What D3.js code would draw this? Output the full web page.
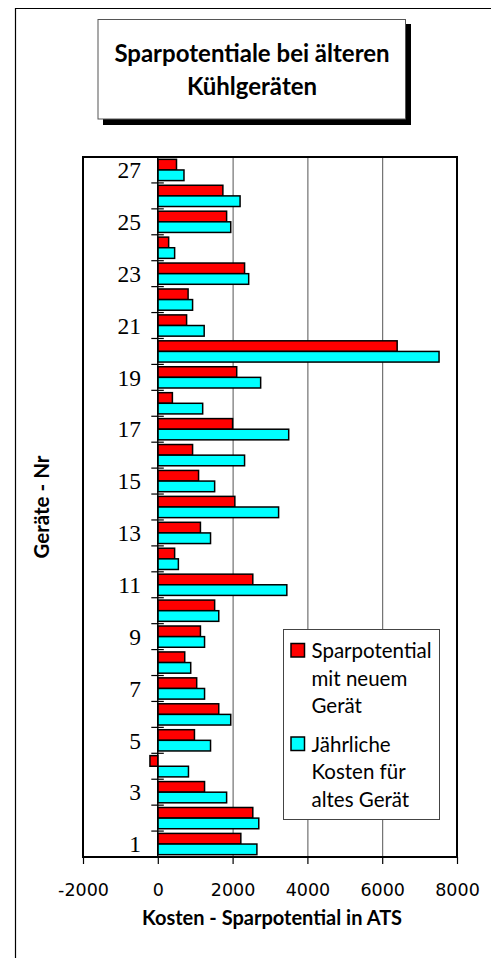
<!DOCTYPE html>
<html>
<head>
<meta charset="utf-8">
<script src="https://cdn.jsdelivr.net/npm/d3@7"></script>
<style>
  html, body { margin: 0; padding: 0; background: #fff; }
  svg { display: block; }
</style>
</head>
<body>
<svg id="chart" width="491" height="958"></svg>
<script>
// ---- data ----
const categories = d3.range(1, 28).map(String); // Geräte-Nr 1..27
const seriesNames = ["Sparpotential mit neuem Gerät", "Jährliche Kosten für altes Gerät"];
const sparpotential = [2220, 2540, 1250, -210, 980, 1630, 1040, 720, 1140, 1520,
                       2540, 450, 1140, 2060, 1090, 930, 2000, 390, 2110, 6400,
                       770, 810, 2320, 290, 1840, 1740, 500];
const kostenAlt = [2650, 2700, 1840, 820, 1410, 1950, 1250, 880, 1250, 1630,
                   3450, 550, 1410, 3230, 1520, 2320, 3500, 1200, 2750, 7520,
                   1240, 930, 2430, 450, 1950, 2200, 700];
const xTicks = [-2000, 0, 2000, 4000, 6000, 8000];
const colors = ["#ff0000", "#00ffff"];
const legendLines = [["Sparpotential", "mit neuem", "Gerät"], ["Jährliche", "Kosten für", "altes Gerät"]];

// ---- layout ----
const svg = d3.select("#chart");
const font = "Lato, 'Open Sans', sans-serif";
const plot = { left: 83, right: 457, top: 157, bottom: 857 };

// outer frame (left & top lines)
svg.append("line").attr("x1", 15.5).attr("x2", 15.5).attr("y1", 8).attr("y2", 958)
  .attr("stroke", "#000").attr("stroke-width", 1.2);
svg.append("line").attr("x1", 15).attr("x2", 491).attr("y1", 8.5).attr("y2", 8.5)
  .attr("stroke", "#000").attr("stroke-width", 1.2);

// title box with shadow
svg.append("rect").attr("x", 103).attr("y", 24).attr("width", 308).attr("height", 101).attr("fill", "#000");
svg.append("rect").attr("x", 98).attr("y", 19.5).attr("width", 307.5).attr("height", 99.5)
  .attr("fill", "#fff").attr("stroke", "#555").attr("stroke-width", 1);
svg.append("text").attr("x", 252).attr("y", 62).attr("text-anchor", "middle")
  .attr("font-family", font).attr("font-weight", "bold").attr("font-size", 24)
  .text("Sparpotentiale bei älteren");
svg.append("text").attr("x", 252).attr("y", 95).attr("text-anchor", "middle")
  .attr("font-family", font).attr("font-weight", "bold").attr("font-size", 24)
  .text("Kühlgeräten");

// scales
const x = d3.scaleLinear().domain([-2000, 8000]).range([plot.left, plot.right]);
const y = d3.scaleBand().domain(categories.slice().reverse()).range([plot.top, plot.bottom]).padding(0);
const ys = d3.scaleBand().domain([0, 1]).range([0, y.bandwidth()]).paddingInner(0).paddingOuter(0.22);

// plot background
svg.append("rect").attr("x", plot.left).attr("y", plot.top)
  .attr("width", plot.right - plot.left).attr("height", plot.bottom - plot.top).attr("fill", "#fff");

// gridlines
svg.append("g").selectAll("line").data([2000, 4000, 6000]).join("line")
  .attr("x1", d => x(d) + 0.5).attr("x2", d => x(d) + 0.5)
  .attr("y1", plot.top).attr("y2", plot.bottom)
  .attr("stroke", "#555").attr("stroke-width", 1);

// bars
const data = categories.map((c, i) => ({ c, vals: [sparpotential[i], kostenAlt[i]] }));
const groups = svg.append("g").selectAll("g").data(data).join("g")
  .attr("transform", d => `translate(0,${y(d.c)})`);
groups.selectAll("rect").data(d => d.vals.map((v, k) => ({ v, k }))).join("rect")
  .attr("x", d => x(Math.min(0, d.v)))
  .attr("width", d => Math.abs(x(d.v) - x(0)))
  .attr("y", d => ys(d.k))
  .attr("height", ys.bandwidth())
  .attr("fill", d => colors[d.k])
  .attr("stroke", "#000").attr("stroke-width", 1.5);

// y axis line at 0
svg.append("line").attr("x1", x(0)).attr("x2", x(0)).attr("y1", plot.top).attr("y2", plot.bottom)
  .attr("stroke", "#000").attr("stroke-width", 1.5);

// y boundary ticks (crossing the axis)
svg.append("g").selectAll("line").data(categories.slice(1)).join("line")
  .attr("x1", x(0) - 6.5).attr("x2", x(0) + 6)
  .attr("y1", d => y(d) + y.bandwidth()).attr("y2", d => y(d) + y.bandwidth())
  .attr("stroke", "#000").attr("stroke-width", 1.2);

// y labels (odd categories)
const yAxis = d3.axisLeft(y).tickSize(0).tickPadding(0)
  .tickFormat(d => (+d % 2 === 1 ? d : ""));
const yg = svg.append("g").attr("transform", `translate(141,0)`).call(yAxis);
yg.select(".domain").remove();
yg.selectAll("text").attr("font-family", "'Liberation Serif', 'Times New Roman', serif")
  .attr("font-size", 23.5).attr("fill", "#000").attr("dy", "0.35em");

// plot border
svg.append("rect").attr("x", plot.left).attr("y", plot.top)
  .attr("width", plot.right - plot.left).attr("height", plot.bottom - plot.top)
  .attr("fill", "none").attr("stroke", "#000").attr("stroke-width", 2);

// x axis
const xAxis = d3.axisBottom(x).tickValues(xTicks).tickSize(7).tickPadding(20).tickFormat(d => String(d));
const xg = svg.append("g").attr("transform", `translate(0,${plot.bottom})`).call(xAxis);
xg.select(".domain").remove();
xg.selectAll("line").attr("stroke", "#000").attr("stroke-width", 1.2);
xg.selectAll("text").attr("font-family", "'DejaVu Sans', sans-serif").attr("font-size", 17.5).attr("fill", "#000");

// axis titles
svg.append("text").attr("x", 272).attr("y", 925).attr("text-anchor", "middle")
  .attr("font-family", font).attr("font-weight", "bold").attr("font-size", 20)
  .text("Kosten - Sparpotential in ATS");
svg.append("text").attr("transform", "translate(49,507) rotate(-90)").attr("text-anchor", "middle")
  .attr("font-family", font).attr("font-weight", "bold").attr("font-size", 20.5)
  .text("Geräte - Nr");

// legend
const lg = svg.append("g");
lg.append("rect").attr("x", 283.5).attr("y", 629.5).attr("width", 156).attr("height", 190)
  .attr("fill", "#fff").attr("stroke", "#444").attr("stroke-width", 1);
const lineH = 27.5;
const blockY = [658, 751.5];
seriesNames.forEach((name, k) => {
  lg.append("rect").attr("x", 291).attr("y", blockY[k] - 14.5).attr("width", 13.5).attr("height", 13.5)
    .attr("fill", colors[k]).attr("stroke", "#000").attr("stroke-width", 1.5);
  legendLines[k].forEach((t, j) => {
    lg.append("text").attr("x", 311.5).attr("y", blockY[k] + j * lineH)
      .attr("font-family", font).attr("font-size", 20.5).attr("fill", "#000").text(t);
  });
});
</script>
</body>
</html>
